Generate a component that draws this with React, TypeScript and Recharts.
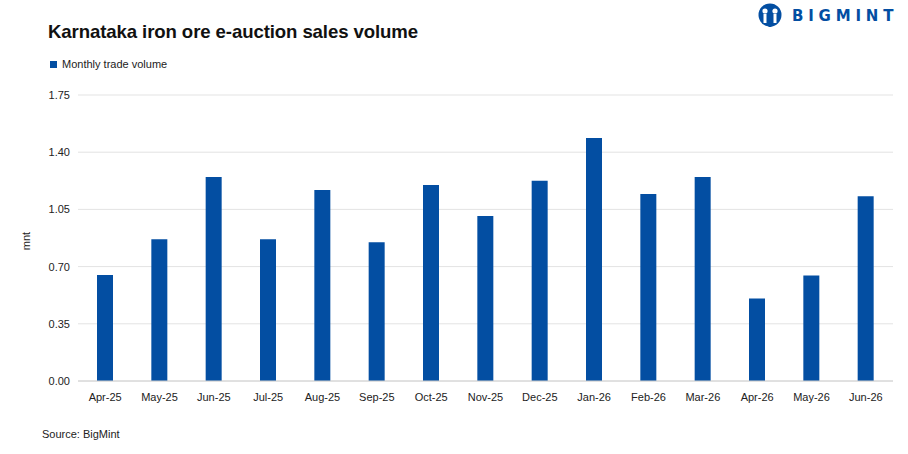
import React from "react";
import {
  BarChart,
  Bar,
  XAxis,
  YAxis,
  CartesianGrid,
} from "recharts";

// months on the x axis
const months = [
  "Apr-25", "May-25", "Jun-25", "Jul-25", "Aug-25", "Sep-25", "Oct-25",
  "Nov-25", "Dec-25", "Jan-26", "Feb-26", "Mar-26", "Apr-26", "May-26", "Jun-26",
];

// monthly trade volume, mnt
const volumes = [
  0.648, 0.867, 1.248, 0.867, 1.168, 0.849, 1.2,
  1.009, 1.226, 1.487, 1.144, 1.248, 0.505, 0.646, 1.131,
];

const yTicks = [0, 0.35, 0.7, 1.05, 1.4, 1.75];

const BLUE = "#034ea2";
const FONT = "'Liberation Sans', Arial, sans-serif";

const data = months.map((m, i) => ({ month: m, volume: volumes[i] }));

function Logo() {
  return (
    <div style={{ position: "absolute", left: 756, top: 3, display: "flex", alignItems: "center" }}>
      <svg width={28} height={26} viewBox="0 0 28 26">
        <circle cx={14} cy={12} r={11.5} fill={BLUE} />
        <circle cx={9} cy={8} r={2.6} fill="#fff" />
        <circle cx={19} cy={8} r={2.6} fill="#fff" />
        <rect x={7.5} y={11} width={3} height={9} fill="#fff" />
        <rect x={17.5} y={11} width={3} height={9} fill="#fff" />
        <rect x={12.5} y={16} width={3} height={8} fill={BLUE} />
      </svg>
      <span
        style={{
          marginLeft: 8,
          fontFamily: "'DejaVu Sans', sans-serif",
          fontWeight: 700,
          fontSize: 15,
          letterSpacing: 4.8,
          color: BLUE,
        }}
      >
        BIGMINT
      </span>
    </div>
  );
}

export default function App() {
  return (
    <div
      style={{
        position: "absolute",
        left: 0,
        top: 0,
        width: 908,
        height: 454,
        background: "#fff",
        fontFamily: FONT,
        color: "#222",
      }}
    >
      <div
        style={{
          position: "absolute",
          left: 48,
          top: 21,
          fontSize: 18.6,
          fontWeight: 700,
          color: "#111",
          letterSpacing: -0.1,
        }}
      >
        Karnataka iron ore e-auction sales volume
      </div>
      <Logo />
      {/* legend */}
      <div style={{ position: "absolute", left: 50, top: 58, display: "flex", alignItems: "center", fontSize: 11 }}>
        <span style={{ width: 7, height: 7, background: BLUE, display: "inline-block", marginRight: 5 }} />
        <span>Monthly trade volume</span>
      </div>
      {/* y axis title */}
      <div
        style={{
          position: "absolute",
          left: 26,
          top: 241,
          fontSize: 11,
          transform: "translate(-50%, -50%) rotate(-90deg)",
        }}
      >
        mnt
      </div>
      <div style={{ position: "absolute", left: 42, top: 428, fontSize: 11 }}>Source: BigMint</div>

      <BarChart
        width={908}
        height={454}
        data={data}
        margin={{ top: 95, right: 15, bottom: 43, left: 0 }}
        style={{ position: "absolute", left: 0, top: 0 }}
      >
        <CartesianGrid vertical={false} stroke="#e3e3e3" />
        <XAxis
          dataKey="month"
          height={30}
          axisLine={{ stroke: "#d0d0d0" }}
          tickLine={false}
          tickMargin={6}
          interval={0}
          tick={{ fontSize: 11, fill: "#222", fontFamily: FONT }}
        />
        <YAxis
          width={78}
          domain={[0, 1.75]}
          ticks={yTicks}
          axisLine={false}
          tickLine={false}
          tickFormatter={(v: number) => v.toFixed(2)}
          tick={{ fontSize: 11, fill: "#222", fontFamily: FONT }}
        />
        <Bar dataKey="volume" fill={BLUE} barSize={16} isAnimationActive={false} />
      </BarChart>
    </div>
  );
}
